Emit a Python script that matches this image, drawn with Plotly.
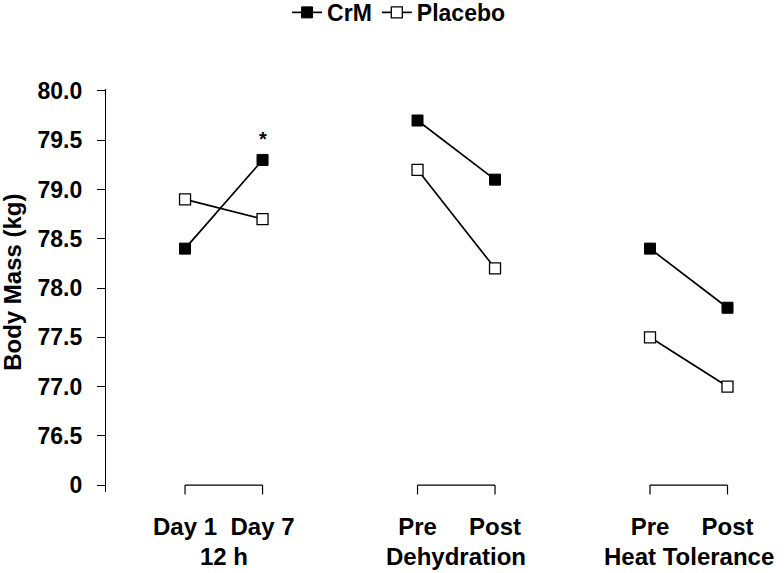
import plotly.graph_objects as go

# ---- data ----
groups = ["12 h", "Dehydration", "Heat Tolerance"]
tick_labels = ["Day 1", "Day 7", "Pre", "Post", "Pre", "Post"]
x_pos = [1, 2, 4, 5, 7, 8]
crm = [78.4, 79.3, 79.7, 79.1, 78.4, 77.8]
placebo = [78.9, 78.7, 79.2, 78.2, 77.5, 77.0]
y_tickvals = [76.0, 76.5, 77.0, 77.5, 78.0, 78.5, 79.0, 79.5, 80.0]
y_ticktext = ["0", "76.5", "77.0", "77.5", "78.0", "78.5", "79.0", "79.5", "80.0"]
sig_index = [1]  # CrM Day 7 marked with *

Y0, Y1 = 75.93, 80.02
FONT = "Arial, Liberation Sans, sans-serif"


def with_gaps(vals):
    out = []
    for i in range(0, len(vals), 2):
        if out:
            out.append(None)
        out.extend(vals[i:i + 2])
    return out


fig = go.Figure()
fig.add_trace(go.Scatter(
    x=with_gaps(x_pos), y=with_gaps(crm), mode="lines+markers", name="CrM",
    line=dict(color="black", width=1.7),
    marker=dict(symbol="square", size=11, color="black", line=dict(color="black", width=1)),
))
fig.add_trace(go.Scatter(
    x=with_gaps(x_pos), y=with_gaps(placebo), mode="lines+markers", name="Placebo",
    line=dict(color="black", width=1.7),
    marker=dict(symbol="square", size=11, color="white", line=dict(color="black", width=1.3)),
))

shapes = []
annotations = []
y_base = (76.0 - Y0) / (Y1 - Y0)
for g in range(len(groups)):
    xa, xb = x_pos[2 * g], x_pos[2 * g + 1]
    shapes.append(dict(type="line", xref="x", yref="paper", x0=xa, x1=xb, y0=y_base, y1=y_base,
                       line=dict(color="black", width=1.2)))
    for xv in (xa, xb):
        shapes.append(dict(type="line", xref="x", yref="paper", x0=xv, x1=xv, y0=y_base, y1=-0.006,
                           line=dict(color="black", width=1.2)))
    annotations.append(dict(x=(xa + xb) / 2, y=-0.16, xref="x", yref="paper", text=groups[g],
                            showarrow=False, xanchor="center", yanchor="middle",
                            font=dict(size=24, family=FONT, color="black", weight="bold")))

for i in sig_index:
    annotations.append(dict(x=x_pos[i], y=crm[i], xref="x", yref="y", text="*", showarrow=False,
                            yshift=21, font=dict(size=20, family=FONT, color="black", weight="bold")))

annotations.append(dict(x=-0.141, y=0.521, xref="paper", yref="paper", text="Body Mass (kg)",
                        textangle=-90, showarrow=False, xanchor="center", yanchor="middle",
                        font=dict(size=24, family=FONT, color="black", weight="bold")))

fig.update_layout(
    width=784, height=573,
    margin=dict(l=106, r=10, t=89, b=81, autoexpand=False),
    paper_bgcolor="white", plot_bgcolor="white",
    font=dict(family=FONT, color="black", weight="bold"),
    showlegend=True,
    legend=dict(orientation="h", x=0.438, xanchor="center", y=1.19, yanchor="middle",
                font=dict(size=23, family=FONT, color="black", weight="bold"),
                itemwidth=30, tracegroupgap=0, bgcolor="rgba(0,0,0,0)"),
    xaxis=dict(range=[-0.02, 8.6], tickvals=x_pos, ticktext=tick_labels, showgrid=False,
               zeroline=False, showline=False, ticks="", ticklabelstandoff=18,
               automargin=False,
               tickfont=dict(size=24, family=FONT, color="black", weight="bold")),
    yaxis=dict(range=[Y0, Y1], tickvals=y_tickvals, ticktext=y_ticktext, showgrid=False,
               zeroline=False, showline=True, linecolor="black", linewidth=1.2,
               automargin=False,
               ticks="outside", ticklen=8, tickwidth=1.2, tickcolor="black", ticklabelstandoff=10,
               tickfont=dict(size=23, family=FONT, color="black", weight="bold")),
    shapes=shapes, annotations=annotations,
)

fig.write_html("out.html", config={"displayModeBar": False},
               post_script="document.body.style.margin='0';document.body.style.overflow='hidden';")
